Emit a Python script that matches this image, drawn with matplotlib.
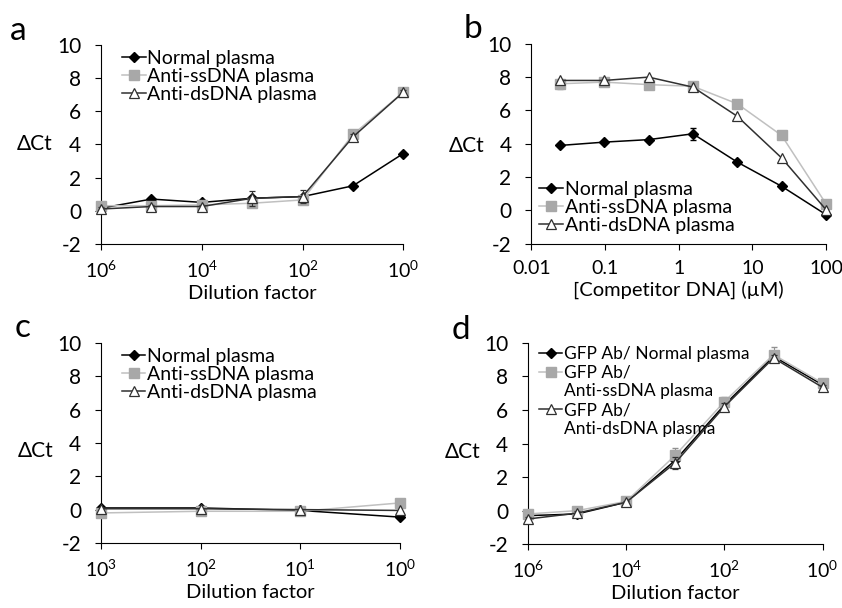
import matplotlib
matplotlib.use('Agg')
import matplotlib.pyplot as plt
from matplotlib.lines import Line2D
import numpy as np

plt.rcParams['font.family'] = ['Lato', 'DejaVu Sans']
plt.rcParams['mathtext.fontset'] = 'custom'
plt.rcParams['mathtext.rm'] = 'Lato'
plt.rcParams['mathtext.it'] = 'Lato'

# panel a - dilution series
dil_a = [1e6, 1e5, 1e4, 1e3, 1e2, 1e1, 1e0]
a_normal = [0.15, 0.7, 0.5, 0.75, 0.85, 1.5, 3.45]
a_ss = [0.3, 0.3, 0.35, 0.45, 0.65, 4.6, 7.15]
a_ds = [0.1, 0.25, 0.25, 0.75, 0.85, 4.45, 7.15]
a_ds_err = [0.1, 0.1, 0.1, 0.45, 0.4, 0.15, 0.15]

# panel b - competitor DNA
comp_b = [0.0244, 0.0977, 0.391, 1.5625, 6.25, 25, 100]
b_normal = [3.9, 4.1, 4.25, 4.6, 2.9, 1.45, -0.25]
b_normal_err = [0.05, 0.05, 0.05, 0.35, 0.1, 0.1, 0.1]
b_ss = [7.6, 7.7, 7.55, 7.45, 6.4, 4.5, 0.4]
b_ss_err = [0.3, 0.1, 0.1, 0.1, 0.1, 0.1, 0.1]
b_ds = [7.8, 7.8, 8.0, 7.4, 5.65, 3.15, 0.05]

# panel c
dil_c = [1e3, 1e2, 1e1, 1e0]
c_normal = [0.1, 0.1, -0.05, -0.45]
c_ss = [-0.2, -0.1, -0.1, 0.4]
c_ds = [0.05, 0.05, 0.0, -0.05]

# panel d
dil_d = [1e6, 1e5, 1e4, 1e3, 1e2, 1e1, 1e0]
d_normal = [-0.3, -0.2, 0.5, 3.0, 6.3, 9.2, 7.5]
d_ss = [-0.2, 0.0, 0.55, 3.3, 6.5, 9.3, 7.6]
d_ss_err = [0.1, 0.1, 0.1, 0.45, 0.25, 0.45, 0.15]
d_ds = [-0.5, -0.15, 0.5, 2.85, 6.2, 9.1, 7.35]
d_ds_err = [0.1, 0.1, 0.1, 0.35, 0.2, 0.2, 0.15]

labels_abc = ['Normal plasma', 'Anti-ssDNA plasma', 'Anti-dsDNA plasma']
labels_d = ['GFP Ab/ Normal plasma', 'GFP Ab/\nAnti-ssDNA plasma', 'GFP Ab/\nAnti-dsDNA plasma']

fig = plt.figure(figsize=(8.42, 6.08), dpi=100)
ax_a = fig.add_axes([0.120, 0.599, 0.359, 0.327])
ax_b = fig.add_axes([0.631, 0.599, 0.350, 0.329])
ax_c = fig.add_axes([0.120, 0.107, 0.355, 0.329])
ax_d = fig.add_axes([0.627, 0.105, 0.350, 0.331])


def draw(ax, x, normal, ss, ds, ylab_y, ss_err=None, ds_err=None, n_err=None):
    h1 = ax.errorbar(x, normal, yerr=n_err, color='black', lw=1.1, marker='D', ms=5,
                     mfc='black', mec='black', capsize=2.5, elinewidth=0.8,
                     clip_on=False, zorder=3)
    h2 = ax.errorbar(x, ss, yerr=ss_err, color='#c0c0c0', lw=1.1, marker='s', ms=7,
                     mfc='#a8a8a8', mec='#a8a8a8', ecolor='#909090', capsize=2.5,
                     elinewidth=0.8, clip_on=False, zorder=4)
    h3 = ax.errorbar(x, ds, yerr=ds_err, color='#303030', lw=1.1, marker='^', ms=7,
                     mfc='white', mec='#303030', mew=0.9, capsize=2.5, elinewidth=0.8,
                     clip_on=False, zorder=5)
    ax.set_ylim(-2, 10)
    ax.set_yticks(np.arange(-2, 11, 2))
    ax.set_yticklabels([str(v) for v in range(-2, 11, 2)])
    ax.spines['top'].set_visible(False)
    ax.spines['right'].set_visible(False)
    ax.tick_params(direction='out', length=4.3, width=0.8, labelsize=14)
    ax.tick_params(axis='y', pad=10, labelsize=15)
    ax.tick_params(axis='x', pad=7)
    ax.tick_params(which='minor', length=0)
    ax.set_ylabel('ΔCt', fontsize=15, rotation=0, labelpad=0, va='center', ha='center')
    ax.yaxis.set_label_coords(-0.22, ylab_y)
    return [h1[0], h2[0], h3[0]]


ha = draw(ax_a, dil_a, a_normal, a_ss, a_ds, 0.5, ds_err=a_ds_err)
hb = draw(ax_b, comp_b, b_normal, b_ss, b_ds, 0.49, ss_err=b_ss_err, n_err=b_normal_err)
hc = draw(ax_c, dil_c, c_normal, c_ss, c_ds, 0.46)
hd = draw(ax_d, dil_d, d_normal, d_ss, d_ds, 0.46, ss_err=d_ss_err, ds_err=d_ds_err)

for ax, ticks in [(ax_a, [1e6, 1e4, 1e2, 1e0]), (ax_c, [1e3, 1e2, 1e1, 1e0]),
                  (ax_d, [1e6, 1e4, 1e2, 1e0])]:
    ax.set_xscale('log')
    ax.set_xlim(max(ticks), 1)
    ax.set_xticks(ticks)
    ax.set_xticklabels(['$10^{%d}$' % int(np.log10(t)) for t in ticks])
    ax.tick_params(which='minor', length=0)
    ax.set_xlabel('Dilution factor', fontsize=14.5, labelpad=3)

ax_b.set_xscale('log')
ax_b.set_xlim(0.01, 100)
ax_b.set_xticks([0.01, 0.1, 1, 10, 100])
ax_b.set_xticklabels(['0.01', '0.1', '1', '10', '100'])
ax_b.tick_params(which='minor', length=0)
ax_b.set_xlabel('[Competitor DNA] (µM)', fontsize=14.5, labelpad=3)

leg_kw = dict(frameon=False, fontsize=14, handlelength=1.2, handletextpad=0.1,
              labelspacing=0.05, borderaxespad=0, borderpad=0)
ax_a.legend(ha, labels_abc, loc='upper left', bbox_to_anchor=(0.07, 0.975), **leg_kw)
ax_b.legend(hb, labels_abc, loc='lower left', bbox_to_anchor=(0.027, 0.05), **leg_kw)
ax_c.legend(hc, labels_abc, loc='upper left', bbox_to_anchor=(0.07, 0.975), **leg_kw)

# multi-line legend labels in d: handle sits beside the first line only
blank = Line2D([], [], linestyle='none', marker='none')
d_handles, d_texts = [], []
for h, lab in zip(hd, labels_d):
    parts = lab.split('\n')
    d_handles.append(h)
    d_texts.append(parts[0])
    for extra in parts[1:]:
        d_handles.append(blank)
        d_texts.append(extra)
leg_d = dict(leg_kw, fontsize=12.5, labelspacing=0.16, handlelength=1.35)
ax_d.legend(d_handles, d_texts, loc='upper left', bbox_to_anchor=(0.037, 0.985), **leg_d)

for ax, letter, dx, dy in [(ax_a, 'a', -0.30, 1.025), (ax_b, 'b', -0.23, 1.03),
                           (ax_c, 'c', -0.29, 1.03), (ax_d, 'd', -0.26, 1.02)]:
    ax.text(dx, dy, letter, transform=ax.transAxes, fontsize=24, ha='left', va='baseline')

fig.savefig('out.png', dpi=100)
